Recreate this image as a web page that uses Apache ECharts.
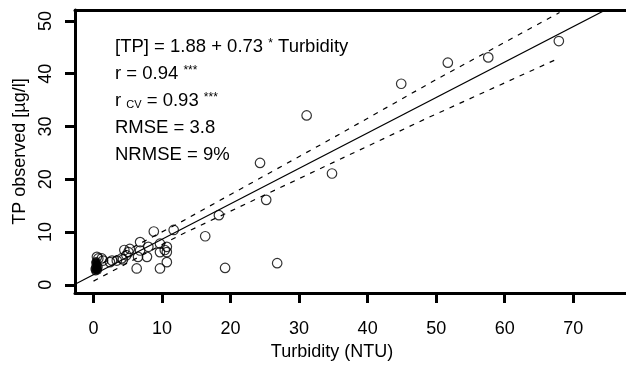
<!DOCTYPE html>
<html lang="EN">
<head>
    <meta charset="utf-8">
    <script src="https://cdn.jsdelivr.net/npm/echarts@6.0.0/dist/echarts.min.js"></script>
</head>
<body>
<style>
    body {
        background: #fff;
        margin: 0;
    }
    #main {
        width: 626px;
        height: 370px;
    }
</style>

<div id="main"></div>

<script>
    // tick labels
    var xTicks = [0, 10, 20, 30, 40, 50, 60, 70];
    var yTicks = [0, 10, 20, 30, 40, 50];

    // open circles: [turbidity, TP observed]
    var openPoints = [
        [67.9, 46.2], [57.6, 43.1], [51.7, 42.1], [44.9, 38.1], [31.1, 32.1],
        [34.8, 21.1], [24.3, 23.1], [25.2, 16.1], [18.3, 13.2], [16.3, 9.2],
        [19.2, 3.2], [26.8, 4.1],
        [11.7, 10.4], [8.8, 10.1], [6.8, 8.1], [8.0, 7.2], [9.7, 7.8], [10.7, 7.2],
        [9.7, 6.2], [10.7, 6.2], [10.4, 6.6],
        [6.3, 3.1], [9.7, 3.1], [10.7, 4.3],
        [6.5, 5.3], [6.8, 6.5], [5.1, 6.2], [4.8, 5.6], [4.5, 6.6], [5.3, 6.8],
        [4.3, 4.8], [4.1, 5.0], [2.7, 4.6], [1.4, 4.6], [1.2, 5.0], [0.5, 5.3],
        [2.4, 4.3], [3.4, 4.6], [7.8, 5.3], [0.7, 5.0]
    ];

    // filled points near the origin
    var filledPoints = [
        [0.3, 2.6], [0.5, 3.0], [0.3, 3.4], [0.5, 3.8], [0.3, 4.2],
        [0.6, 2.8], [0.4, 4.4], [0.7, 3.4], [0.2, 3.0]
    ];

    // fitted line and dashed band
    var fitLine = [[-2.7, 0.1], [77.7, 54.1]];
    var upperBand = [[0, 3.2], [12.6, 11.8], [34.6, 27.6], [50, 38.9], [68, 51.6]];
    var lowerBand = [[0, 0.7], [12.6, 9.4], [35, 23.2], [48.2, 31.3], [68, 43.0]];

    var statsText = [
        '[TP] = 1.88 + 0.73 {sup|*} Turbidity',
        'r = 0.94 {sup|***}',
        'r {sub|CV} = 0.93 {sup|***}',
        'RMSE = 3.8',
        'NRMSE = 9%'
    ];

    var font = 'Liberation Sans';

    var chart = echarts.init(document.getElementById('main'));
    chart.setOption({
        animation: false,
        grid: {
            left: 75,
            right: 0,
            top: 10,
            bottom: 77
        },
        xAxis: [{
            type: 'value',
            min: -2.7,
            max: 77.7,
            name: 'Turbidity (NTU)',
            nameLocation: 'middle',
            nameGap: 40,
            nameTextStyle: {
                fontSize: 18,
                fontFamily: font,
                color: '#000',
                padding: [0, 37, 0, 0]
            },
            axisLine: { onZero: false, lineStyle: { color: '#000', width: 3 } },
            axisTick: {
                customValues: xTicks,
                length: 10,
                lineStyle: { color: '#000', width: 3 }
            },
            axisLabel: {
                customValues: xTicks,
                margin: 27,
                fontSize: 18,
                fontFamily: font,
                color: '#000'
            },
            splitLine: { show: false }
        }, {
            type: 'value',
            position: 'top',
            min: -2.7,
            max: 77.7,
            axisLine: { onZero: false, lineStyle: { color: '#000', width: 3 } },
            axisTick: { show: false },
            axisLabel: { show: false },
            splitLine: { show: false }
        }],
        yAxis: {
            type: 'value',
            min: -1.55,
            max: 52.08,
            name: 'TP observed [µg/l]',
            nameLocation: 'middle',
            nameGap: 46,
            nameTextStyle: {
                fontSize: 18,
                fontFamily: font,
                color: '#000'
            },
            axisLine: { show: true, onZero: false, lineStyle: { color: '#000', width: 3 } },
            axisTick: {
                show: true,
                customValues: yTicks,
                length: 10,
                lineStyle: { color: '#000', width: 3 }
            },
            axisLabel: {
                customValues: yTicks,
                rotate: 90,
                margin: 20,
                fontSize: 18,
                fontFamily: font,
                color: '#000'
            },
            splitLine: { show: false }
        },
        graphic: [{
            type: 'text',
            left: 115,
            top: 33,
            style: {
                text: statsText.join('\n'),
                fontSize: 18.5,
                fontFamily: font,
                lineHeight: 27,
                fill: '#000',
                rich: {
                    sup: { fontSize: 12, fontFamily: font, padding: [0, 0, 5, 0] },
                    sub: { fontSize: 11, fontFamily: font, padding: [8, 0, 0, 0] }
                }
            }
        }],
        series: [{
            type: 'line',
            data: fitLine,
            symbol: 'none',
            clip: true,
            lineStyle: { color: '#000', width: 1.2 }
        }, {
            type: 'line',
            data: upperBand,
            symbol: 'none',
            clip: true,
            lineStyle: { color: '#000', width: 1.2, type: [5, 6] }
        }, {
            type: 'line',
            data: lowerBand,
            symbol: 'none',
            clip: true,
            lineStyle: { color: '#000', width: 1.2, type: [5, 6] }
        }, {
            type: 'scatter',
            data: filledPoints,
            symbol: 'circle',
            symbolSize: 9,
            itemStyle: { color: '#000' }
        }, {
            type: 'scatter',
            data: openPoints,
            symbol: 'circle',
            symbolSize: 9.5,
            itemStyle: { color: 'transparent', borderColor: '#000', borderWidth: 1.2 }
        }]
    });
</script>
</body>
</html>
